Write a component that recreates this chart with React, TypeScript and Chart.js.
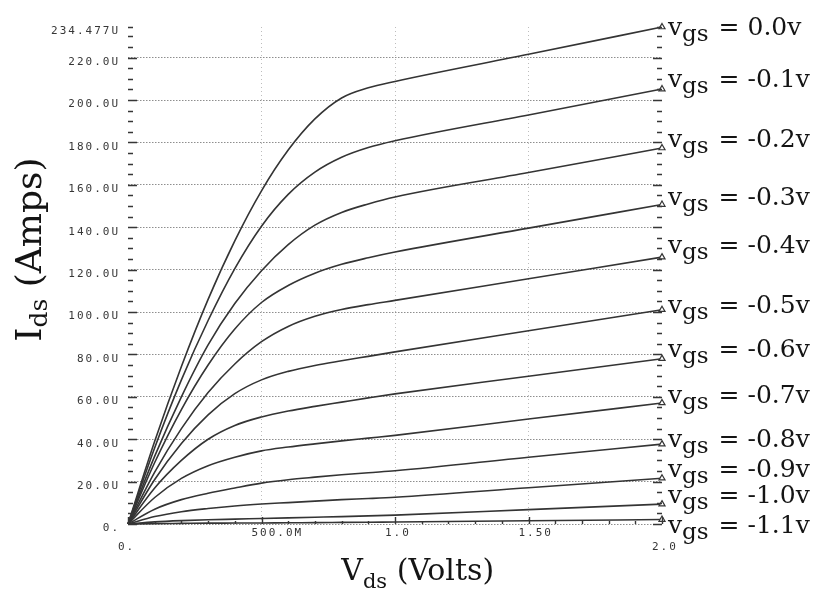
import React, { useEffect, useRef } from 'react';
import { Chart, registerables } from 'chart.js';

Chart.register(...registerables);

// Drain-source voltage sweep (V)
const VDS_VOLTS = [0, 0.1, 0.2, 0.3, 0.4, 0.5, 0.6, 0.7, 0.8, 0.9, 1.0, 1.5, 2.0];

// Gate-source voltage of each curve
const VGS_STEPS = ['0.0', '-0.1', '-0.2', '-0.3', '-0.4', '-0.5', '-0.6', '-0.7', '-0.8', '-0.9', '-1.0', '-1.1'];

// Drain current per curve (µA)
const IDS_VGS_0_0 = [0, 39.0, 74.3, 106.0, 133.6, 157.2, 176.4, 191.1, 201.0, 205.8, 208.8, 221.6, 234.477];
const IDS_VGS_M0_1 = [0, 36.0, 68.0, 96.0, 120.5, 140.5, 155.5, 166.0, 173.0, 177.6, 180.8, 193.0, 205.2];
const IDS_VGS_M0_2 = [0, 32.0, 60.0, 84.5, 104.0, 119.5, 131.8, 141.0, 147.0, 151.0, 154.3, 165.8, 177.4];
const IDS_VGS_M0_3 = [0, 29.0, 54.0, 75.0, 92.0, 104.5, 112.5, 118.3, 122.5, 125.6, 128.3, 139.6, 150.7];
const IDS_VGS_M0_4 = [0, 24.5, 45.0, 62.0, 75.5, 86.0, 93.2, 98.0, 101.2, 103.5, 105.5, 115.7, 125.9];
const IDS_VGS_M0_5 = [0, 21.0, 38.0, 51.5, 61.5, 68.0, 72.0, 74.8, 77.0, 79.1, 81.2, 91.2, 101.1];
const IDS_VGS_M0_6 = [0, 17.0, 30.0, 40.0, 46.5, 50.5, 53.3, 55.5, 57.5, 59.5, 61.4, 69.7, 78.0];
const IDS_VGS_M0_7 = [0, 12.5, 21.5, 27.5, 31.5, 34.5, 36.3, 37.8, 39.2, 40.5, 41.8, 49.5, 57.1];
const IDS_VGS_M0_8 = [0, 7.0, 11.5, 14.5, 17.0, 19.3, 20.9, 22.1, 23.2, 24.2, 25.1, 31.5, 37.7];
const IDS_VGS_M0_9 = [0, 3.5, 5.8, 7.3, 8.5, 9.4, 10.1, 10.8, 11.5, 12.0, 12.6, 17.1, 21.6];
const IDS_VGS_M1_0 = [0, 1.0, 1.6, 2.0, 2.3, 2.6, 2.9, 3.2, 3.5, 3.85, 4.2, 6.8, 9.4];
const IDS_VGS_M1_1 = [0, 0.2, 0.3, 0.4, 0.45, 0.5, 0.6, 0.65, 0.75, 0.85, 0.95, 1.5, 2.1];

const IDS_CURVES = [
  IDS_VGS_0_0, IDS_VGS_M0_1, IDS_VGS_M0_2, IDS_VGS_M0_3, IDS_VGS_M0_4, IDS_VGS_M0_5,
  IDS_VGS_M0_6, IDS_VGS_M0_7, IDS_VGS_M0_8, IDS_VGS_M0_9, IDS_VGS_M1_0, IDS_VGS_M1_1,
];

// Axis ticks and their printed labels
const X_TICK_VALUES = [0, 0.5, 1.0, 1.5, 2.0];
const X_TICK_LABELS = ['0.', '500.0M', '1.0', '1.50', '2.0'];
const Y_TICK_VALUES = [0, 20, 40, 60, 80, 100, 120, 140, 160, 180, 200, 220, 234.477];
const Y_TICK_LABELS = ['0.', '20.0U', '40.0U', '60.0U', '80.0U', '100.0U', '120.0U', '140.0U', '160.0U', '180.0U', '200.0U', '220.0U', '234.477U'];

// Styling
const X_LOWERED_LABELS = [0, 4];
const LABEL_NUDGE = [8, -2, -1, 0, -4, 3, -2, 0, 3, -1, -1, 13];
const CURVE_COLOR = '#343434';
const TICK_COLOR = '#363636';
const SERIF = "'DejaVu Serif', serif";

function drawSubscripted(
  ctx: CanvasRenderingContext2D,
  main: string,
  sub: string,
  rest: string,
  mainSize: number,
  subSize: number,
  subDrop: number,
  gap: number,
) {
  ctx.font = `${mainSize}px ${SERIF}`;
  ctx.fillText(main, 0, 0);
  let x = ctx.measureText(main).width;
  ctx.font = `${subSize}px ${SERIF}`;
  ctx.fillText(sub, x, subDrop);
  x += ctx.measureText(sub).width + gap;
  ctx.font = `${mainSize}px ${SERIF}`;
  ctx.fillText(rest, x, 0);
}

const decorPlugin = {
  id: 'curveDecor',
  beforeDraw(chart: any) {
    chart.ctx.letterSpacing = '2px';
  },
  afterDraw(chart: any) {
    const { ctx, chartArea } = chart;
    const xs = chart.scales.x;
    const ys = chart.scales.y;
    ctx.save();
    ctx.letterSpacing = '0px';

    // axis tick columns (left, right) and tick row (bottom)
    ctx.strokeStyle = TICK_COLOR;
    ctx.lineWidth = 1.4;
    ctx.beginPath();
    const yMax = Y_TICK_VALUES[Y_TICK_VALUES.length - 1];
    const yMinor: number[] = [];
    for (let k = 0; k * 5 <= yMax; k++) yMinor.push(k * 5);
    yMinor.push(yMax);
    for (const v of yMinor) {
      const py = Math.round(ys.getPixelForValue(v)) + 0.5;
      const len = v % 20 === 0 ? 9 : 5;
      ctx.moveTo(chartArea.left, py);
      ctx.lineTo(chartArea.left + len, py);
      ctx.moveTo(chartArea.right, py);
      ctx.lineTo(chartArea.right - len, py);
    }
    for (let k = 0; k <= 20; k++) {
      const px = Math.round(xs.getPixelForValue(k / 10)) + 0.5;
      const len = k % 5 === 0 ? 7 : 3;
      ctx.moveTo(px, chartArea.bottom);
      ctx.lineTo(px, chartArea.bottom - len);
    }
    ctx.stroke();

    // curve labels at the right end of each trace
    ctx.fillStyle = '#141414';
    ctx.textAlign = 'left';
    ctx.textBaseline = 'alphabetic';
    const lastX = VDS_VOLTS[VDS_VOLTS.length - 1];
    IDS_CURVES.forEach((curve, i) => {
      const px = xs.getPixelForValue(lastX) + 6;
      const py = ys.getPixelForValue(curve[curve.length - 1]) + LABEL_NUDGE[i];
      ctx.save();
      ctx.translate(px, py);
      drawSubscripted(ctx, 'v', 'gs', ` = ${VGS_STEPS[i]}v`, 25, 23, 6, 2);
      ctx.restore();
    });

    // x axis title
    ctx.save();
    ctx.translate(xs.getPixelForValue(0.75) + 13, chartArea.bottom + 56);
    drawSubscripted(ctx, 'V', 'ds', ' (Volts)', 30, 21, 8, 0);
    ctx.restore();

    // y axis title
    ctx.save();
    ctx.translate(41, ys.getPixelForValue(86));
    ctx.rotate(-Math.PI / 2);
    drawSubscripted(ctx, 'I', 'ds', ' (Amps)', 36, 25, 6, 0);
    ctx.restore();

    ctx.restore();
  },
};

export default function App() {
  const canvasRef = useRef<HTMLCanvasElement | null>(null);

  useEffect(() => {
    const canvas = canvasRef.current;
    if (!canvas) return;
    const tickFont = { family: "'DejaVu Sans Mono', monospace", size: 11 };

    const chart = new Chart(canvas, {
      type: 'line',
      data: {
        datasets: IDS_CURVES.map((curve, i) => ({
          label: `Vgs = ${VGS_STEPS[i]}v`,
          data: VDS_VOLTS.map((v, j) => ({ x: v, y: curve[j] })),
          borderColor: CURVE_COLOR,
          borderWidth: 1.6,
          cubicInterpolationMode: 'monotone' as const,
          pointStyle: 'triangle',
          pointRadius: (c: any) => (c.dataIndex === VDS_VOLTS.length - 1 ? 3.5 : 0),
          pointBackgroundColor: '#ffffff',
          pointBorderColor: CURVE_COLOR,
          pointBorderWidth: 1.2,
          clip: false as any,
          fill: false,
        })),
      },
      options: {
        responsive: false,
        animation: false,
        devicePixelRatio: 1,
        events: [],
        layout: { padding: { left: 0, top: 27, right: 160, bottom: 29 } },
        plugins: {
          legend: { display: false },
          tooltip: { enabled: false },
        },
        scales: {
          x: {
            type: 'linear',
            min: 0,
            max: 2,
            afterBuildTicks: (axis: any) => {
              axis.ticks = X_TICK_VALUES.map((value) => ({ value }));
            },
            afterFit: (scale: any) => {
              scale.height = 40;
            },
            ticks: {
              autoSkip: false,
              maxRotation: 0,
              minRotation: 0,
              align: 'start',
              labelOffset: -10,
              padding: 3,
              color: TICK_COLOR,
              font: tickFont,
              callback: (_v: any, index: number) =>
                X_LOWERED_LABELS.includes(index) ? ['', X_TICK_LABELS[index]] : X_TICK_LABELS[index],
            },
            grid: {
              drawTicks: false,
              lineWidth: 1,
              color: (c: any) =>
                c.tick && (c.tick.value === 0 || c.tick.value === 2) ? 'rgba(0,0,0,0)' : '#bdbdbd',
            },
            border: { display: false, dash: [1, 3] },
          },
          y: {
            type: 'linear',
            min: 0,
            max: Y_TICK_VALUES[Y_TICK_VALUES.length - 1],
            afterBuildTicks: (axis: any) => {
              axis.ticks = Y_TICK_VALUES.map((value) => ({ value }));
            },
            afterFit: (scale: any) => {
              scale.width = 128;
            },
            ticks: {
              autoSkip: false,
              padding: 8,
              labelOffset: 4.5,
              color: TICK_COLOR,
              font: tickFont,
              callback: (_v: any, index: number) => Y_TICK_LABELS[index],
            },
            grid: {
              drawTicks: false,
              lineWidth: 1,
              color: (c: any) =>
                c.tick && c.tick.value === Y_TICK_VALUES[Y_TICK_VALUES.length - 1] ? 'rgba(0,0,0,0)' : '#8e8e8e',
            },
            border: { display: false, dash: [1.5, 1.5] },
          },
        },
      },
      plugins: [decorPlugin],
    } as any);

    return () => chart.destroy();
  }, []);

  return (
    <div style={{ position: 'absolute', left: 0, top: 0, width: 822, height: 593, background: '#ffffff' }}>
      <canvas ref={canvasRef} width={822} height={593} style={{ display: 'block' }} />
    </div>
  );
}
